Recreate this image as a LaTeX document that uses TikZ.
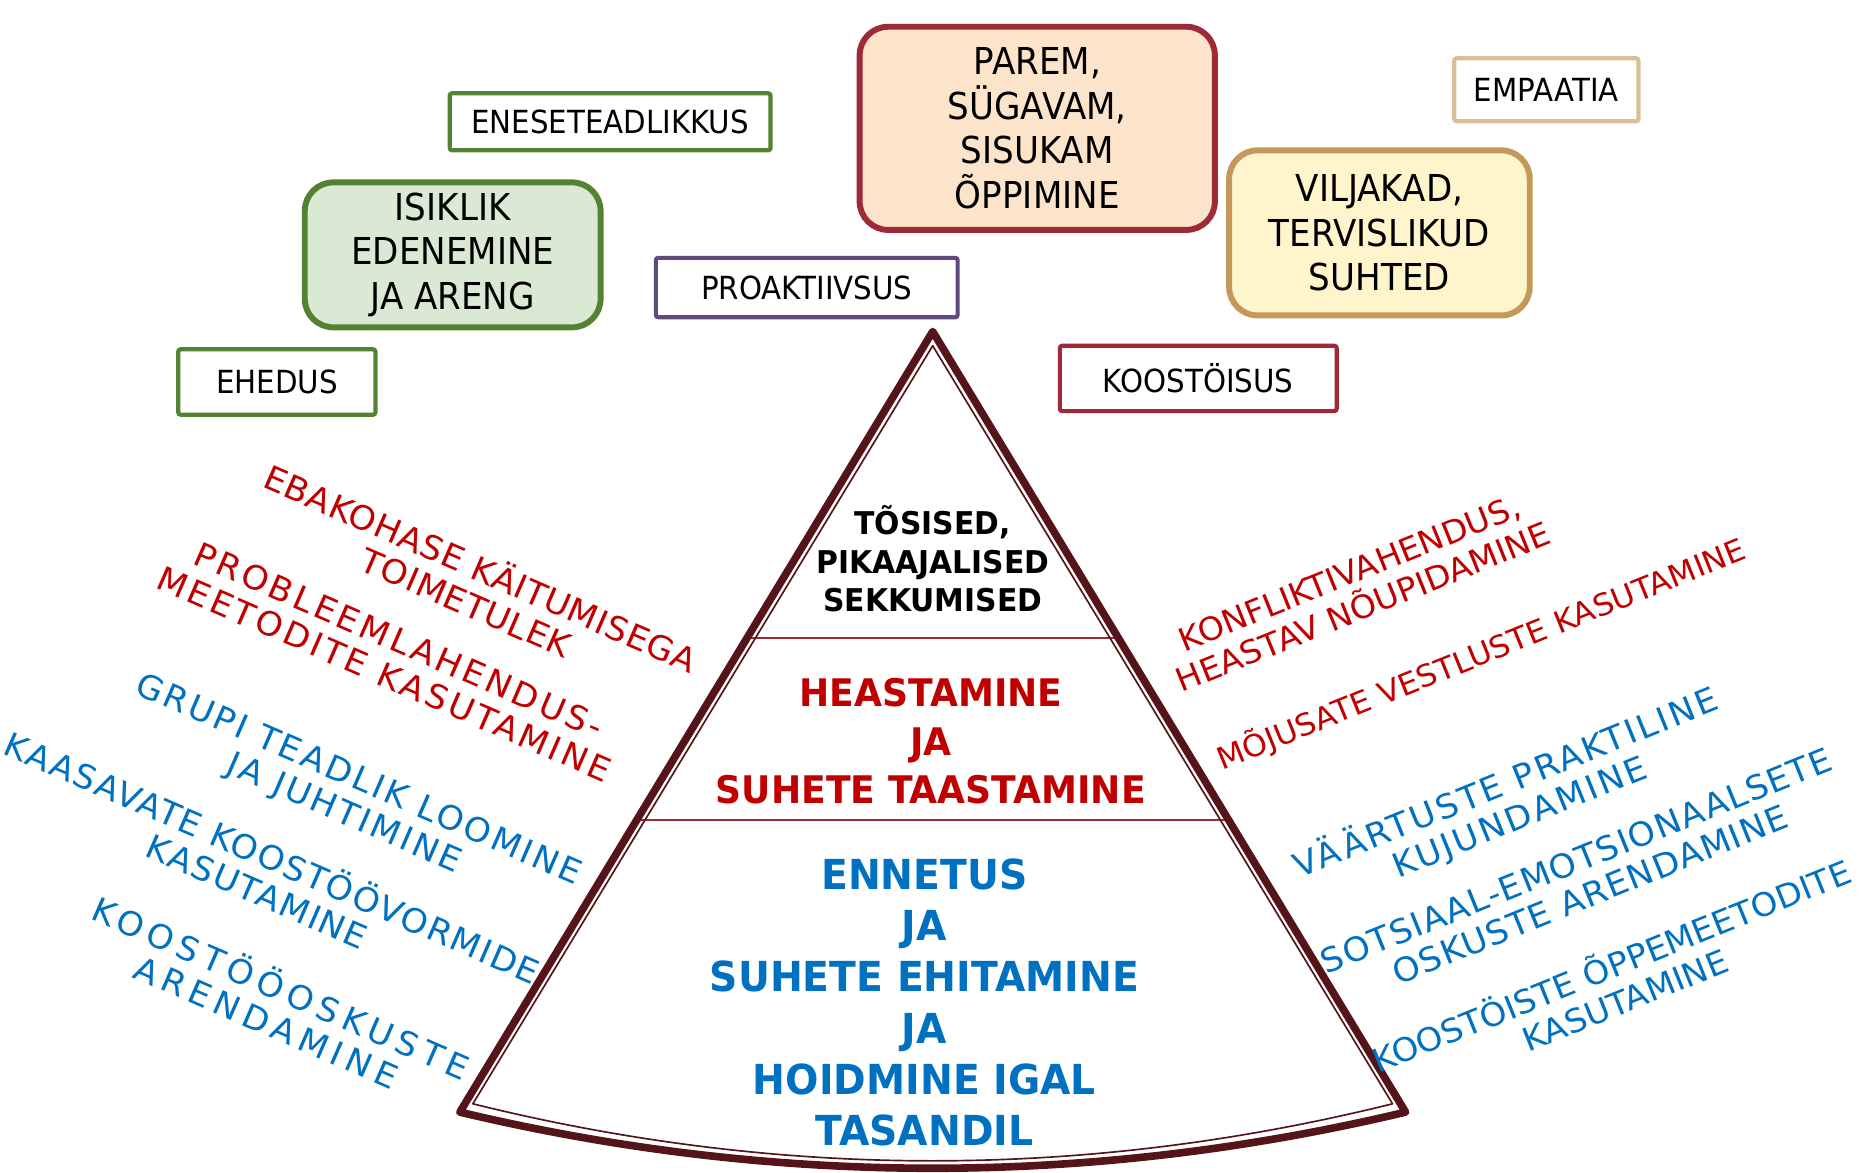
\documentclass[tikz,border=0pt]{standalone}
\usepackage{fontspec}
\setmainfont{DejaVu Sans}
\newfontfamily\boxfont[FakeStretch=0.92]{DejaVu Sans}
\newfontfamily\pyrfont[FakeStretch=0.95]{DejaVu Sans}
\newfontfamily\rotfont[FakeStretch=1.04]{DejaVu Sans}
\usetikzlibrary{calc}
\definecolor{grn}{RGB}{84,130,53}
\definecolor{grnfill}{RGB}{218,233,212}
\definecolor{lilla}{RGB}{96,74,123}
\definecolor{punane}{RGB}{158,42,56}
\definecolor{virsik}{RGB}{252,228,202}
\definecolor{beez}{RGB}{216,191,151}
\definecolor{kuld}{RGB}{196,152,88}
\definecolor{kollane}{RGB}{255,245,204}
\definecolor{pyrline}{RGB}{84,20,26}
\definecolor{punatekst}{RGB}{192,0,0}
\definecolor{sinine}{RGB}{0,112,192}
\newcommand\sidefont[2]{\rotfont\fontsize{#1}{15.5}\selectfont\addfontfeatures{LetterSpace=#2}}
\newcommand\pyrsize[2]{\pyrfont\bfseries\fontsize{#1}{#2}\selectfont}

\begin{document}
\begin{tikzpicture}[x=.5pt,y=-.5pt,
	tagbox/.style={draw, fill=white, line width=1.75pt, rounded corners=1pt, inner sep=0pt, font=\boxfont\fontsize{13.4}{16}\selectfont},
	goalbox/.style={draw, line width=2.5pt, rounded corners=12pt, inner sep=0pt, align=center, font=\boxfont\fontsize{15.6}{18.7}\selectfont},
	lside/.style={rotate=-23.5, align=center, inner sep=0pt},
	rside/.style={rotate=22, align=center, inner sep=0pt},
	pyr/.style={draw=pyrline, line join=round},
	divider/.style={draw=punane, line width=.7pt}]
	\useasboundingbox (0,0) rectangle (1568,987);
	
	\node[tagbox, draw=grn, minimum width=135pt, minimum height=24pt] (ene) at (513.5,102.5) {ENESETEADLIKKUS};
	\node[goalbox, draw=grn, fill=grnfill, minimum width=124.5pt, minimum height=61pt] (isik) at (381,214.5) {ISIKLIK\\EDENEMINE\\JA ARENG};
	\node[tagbox, draw=grn, minimum width=83pt, minimum height=27.5pt] (ehed) at (233,321.5) {EHEDUS};
	\node[tagbox, draw=lilla, minimum width=127pt, minimum height=25pt] (proak) at (679,242) {PROAKTIIVSUS};
	\node[goalbox, draw=punane, fill=virsik, minimum width=149.5pt, minimum height=85.5pt] (parem) at (873,108) {PAREM,\\SÜGAVAM,\\SISUKAM\\ÕPPIMINE};
	\node[tagbox, draw=beez, minimum width=77.5pt, minimum height=26.5pt] (empa) at (1301.5,75.5) {EMPAATIA};
	\node[goalbox, draw=kuld, fill=kollane, minimum width=126.5pt, minimum height=69.5pt] (vilj) at (1161,196) {VILJAKAD,\\TERVISLIKUD\\SUHTED};
	\node[tagbox, draw=punane, minimum width=116.5pt, minimum height=27.5pt] (koos) at (1008.5,318.5) {KOOSTÖISUS};
	
	\coordinate (apex) at (785,279);
	\coordinate (bl) at (387,936);
	\coordinate (br) at (1183,936);
	\coordinate (apexin) at (785,291);
	\coordinate (blin) at (398,929);
	\coordinate (brin) at (1172,929);
	\coordinate (cutil) at ($(apex)!.3927!(bl)$);
	\coordinate (cutir) at ($(apex)!.3927!(br)$);
	\coordinate (cutiil) at ($(apex)!.6256!(bl)$);
	\coordinate (cutiir) at ($(apex)!.6256!(br)$);
	\draw[divider] (cutil) -- (cutir);
	\draw[divider] (cutiil) -- (cutiir);
	\draw[pyr, line width=3.2pt] (apex) -- (bl) .. controls (652,999) and (918,999) .. (br) -- cycle;
	\draw[pyr, line width=.7pt] (apexin) -- (blin) .. controls (656,993) and (914,993) .. (brin) -- cycle;
	
	\node[align=center, font=\pyrsize{13.2}{16.2}] (lvltop) at (785,470.3) {TÕSISED,\\PIKAAJALISED\\SEKKUMISED};
	\node[align=center, text=punatekst, font=\pyrsize{16}{20.35}] (lvlmid) at (783.5,623.8) {HEASTAMINE\\JA\\SUHETE TAASTAMINE};
	\node[align=center, text=sinine, font=\pyrsize{17.4}{21.5}] (lvlbot) at (778,843.7) {ENNETUS\\JA\\SUHETE EHITAMINE\\JA\\HOIDMINE IGAL\\TASANDIL};
	
	\node[lside, text=punatekst, font=\sidefont{14}{1.5}] (ebak) at (399.3,491) {EBAKOHASE KÄITUMISEGA\\TOIMETULEK};
	\node[lside, text=punatekst, font=\sidefont{14}{9.3}] (prob) at (329.5,553) {PROBLEEMLAHENDUS-\\MEETODITE KASUTAMINE};
	\node[lside, text=sinine, font=\sidefont{14}{7.9}] (grupi) at (295.4,671.5) {GRUPI TEADLIK LOOMINE\\JA JUHTIMINE};
	\node[lside, text=sinine, font=\sidefont{14}{4.6}] (kaas) at (223.7,734.4) {KAASAVATE KOOSTÖÖVORMIDE\\KASUTAMINE};
	\node[lside, text=sinine, font=\sidefont{14}{16.9}] (kooso) at (231.2,844.1) {KOOSTÖÖOSKUSTE\\ARENDAMINE};
	
	\node[rside, text=punatekst, font=\sidefont{13.5}{0}] (konf) at (1141.5,496.5) {KONFLIKTIVAHENDUS,\\HEASTAV NÕUPIDAMINE};
	\node[rside, text=punatekst, font=\sidefont{12.8}{0}] (mojus) at (1246.5,550.5) {MÕJUSATE VESTLUSTE KASUTAMINE};
	\node[rside, text=sinine, font=\sidefont{14}{7.5}] (vaart) at (1273.3,673) {VÄÄRTUSTE PRAKTILINE\\KUJUNDAMINE};
	\node[rside, text=sinine, font=\sidefont{14}{3.4}] (sots) at (1332.4,738.5) {SOTSIAAL-EMOTSIONAALSETE\\OSKUSTE ARENDAMINE};
	\node[rside, text=sinine, font=\sidefont{13.7}{0}] (kooste) at (1361.3,825.5) {KOOSTÖISTE ÕPPEMEETODITE\\KASUTAMINE};
\end{tikzpicture}
\end{document}
